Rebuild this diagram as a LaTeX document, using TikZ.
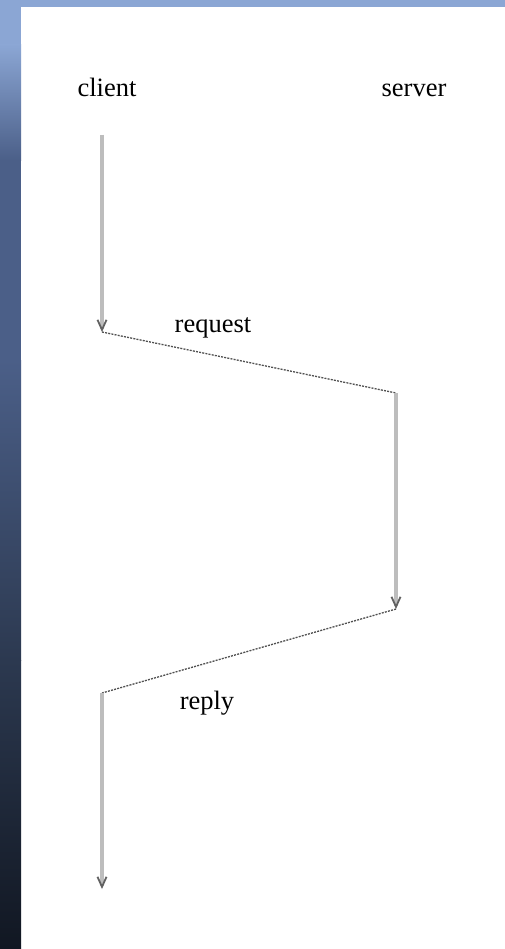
\documentclass[tikz,border=0pt]{standalone}
\usepackage{fontspec}
\setmainfont{Liberation Serif}
\usetikzlibrary{arrows.meta}
\definecolor{stripA}{HTML}{8BA6D4}
\definecolor{stripM}{HTML}{4B5F88}
\definecolor{stripD}{HTML}{2C3950}
\definecolor{stripC}{HTML}{111722}
\definecolor{lifeline}{HTML}{BDBDBD}
\definecolor{msgline}{HTML}{505050}
\begin{document}
\begin{tikzpicture}[x=1pt,y=-1pt,
  lbl/.style={font=\fontsize{26.5}{28}\selectfont, inner sep=0pt, anchor=base},
  life/.style={draw=lifeline, line width=3.4pt, -{Straight Barb[length=10pt,width=9pt,line width=1.8pt,color=msgline!90]}},
  msg/.style={draw=msgline, line width=1.3pt, dash pattern=on 2pt off 1.2pt}]
\useasboundingbox (0,0) rectangle (505,949);
\fill[white] (0,0) rectangle (505,949);
\fill[stripA] (0,0) rectangle (505,7);
\fill[stripA] (0,7) rectangle (21,45);
\shade[top color=stripA, bottom color=stripM] (0,45) rectangle (21,160.5);
\fill[stripM] (0,160) rectangle (21,360.5);
\shade[top color=stripM, bottom color=stripD] (0,360) rectangle (21,660.5);
\shade[top color=stripD, bottom color=stripC] (0,660) rectangle (21,949);
\node[lbl] (client) at (107,97) {client};
\node[lbl] (server) at (414,97) {server};
\node[lbl] (request) at (213,332) {request};
\node[lbl] (reply) at (207,709) {reply};
\coordinate (c1) at (102,135);
\coordinate (c2) at (102,332);
\coordinate (s1) at (396,393);
\coordinate (s2) at (396,609);
\coordinate (c3) at (102,693);
\coordinate (c4) at (102,889);
\draw[life] (c1) -- (c2);
\draw[msg] (c2) -- (s1);
\draw[life] (s1) -- (s2);
\draw[msg] (s2) -- (c3);
\draw[life] (c3) -- (c4);
\end{tikzpicture}
\end{document}
